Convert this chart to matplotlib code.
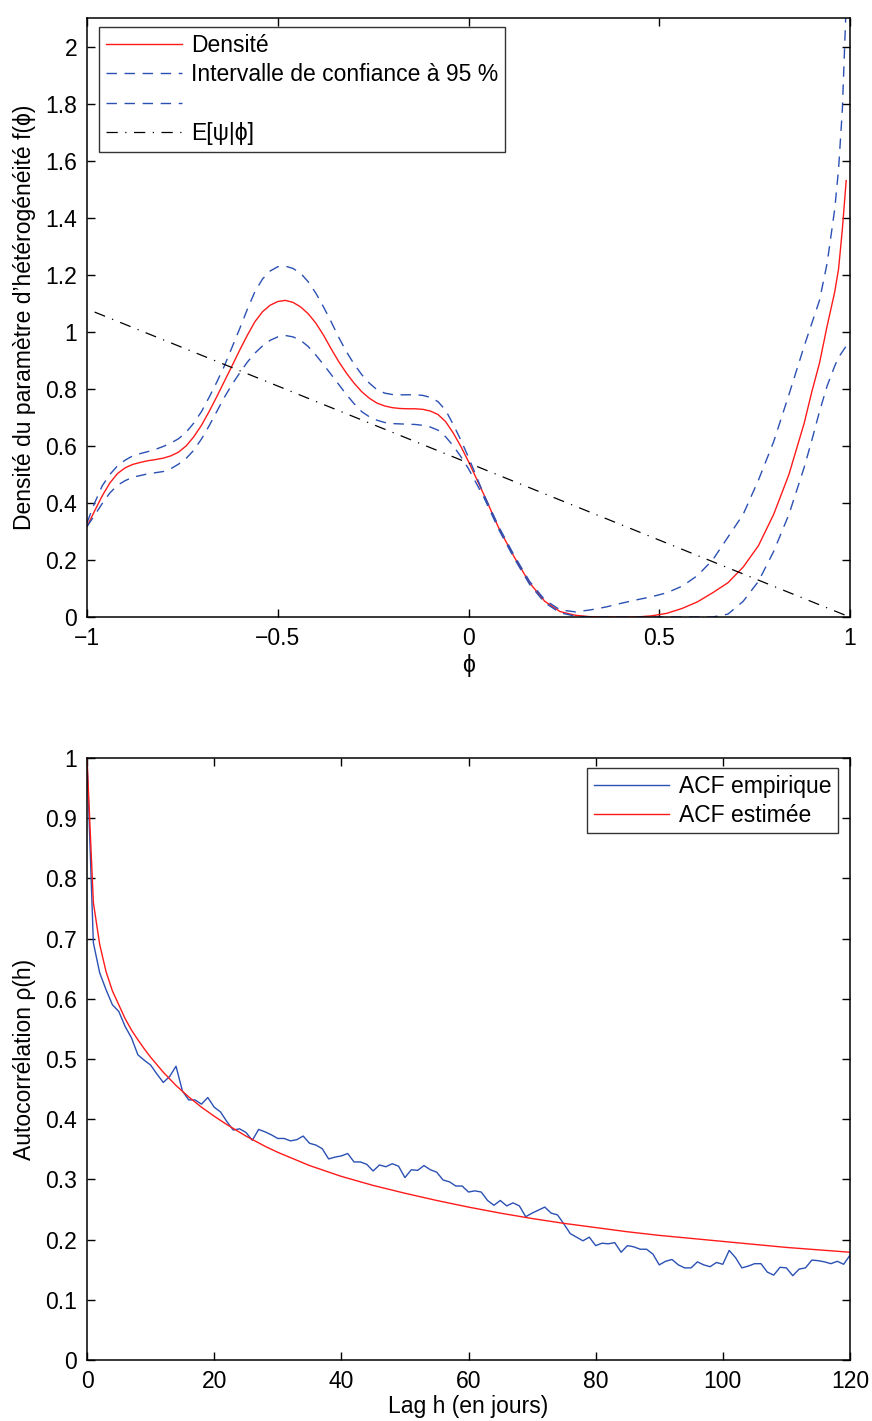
import matplotlib
matplotlib.use("Agg")
import matplotlib.pyplot as plt
from matplotlib.ticker import FuncFormatter, MultipleLocator

plt.rcParams['font.family'] = ['Liberation Sans', 'DejaVu Sans']
plt.rcParams['axes.unicode_minus'] = True

# ---------------- data: top panel ----------------
phi = [-1.00, -0.98, -0.96, -0.94, -0.92, -0.90, -0.88, -0.86, -0.84, -0.82,
       -0.80, -0.78, -0.76, -0.74, -0.72, -0.70, -0.68, -0.66, -0.64, -0.62,
       -0.60, -0.58, -0.56, -0.54, -0.52, -0.50, -0.48, -0.46, -0.44, -0.42,
       -0.40, -0.38, -0.36, -0.34, -0.32, -0.30, -0.28, -0.26, -0.24, -0.22,
       -0.20, -0.18, -0.16, -0.14, -0.12, -0.10, -0.08, -0.06, -0.04, -0.02,
       0.00, 0.04, 0.08, 0.12, 0.16, 0.20, 0.24, 0.28, 0.32, 0.36,
       0.40, 0.44, 0.48, 0.52, 0.56, 0.60, 0.64, 0.68, 0.72, 0.76,
       0.80, 0.84, 0.88, 0.90, 0.92, 0.94, 0.96, 0.97, 0.98, 0.99]
density = [0.317, 0.372, 0.425, 0.47, 0.503, 0.523, 0.535, 0.542, 0.548, 0.552,
           0.557, 0.565, 0.578, 0.60, 0.632, 0.672, 0.72, 0.772, 0.826, 0.88,
           0.935, 0.987, 1.035, 1.07, 1.093, 1.106, 1.11, 1.103, 1.087, 1.063,
           1.03, 0.988, 0.94, 0.895, 0.855, 0.82, 0.79, 0.767, 0.75, 0.74,
           0.734, 0.731, 0.73, 0.73, 0.728, 0.722, 0.71, 0.685, 0.645, 0.598,
           0.545, 0.43, 0.31, 0.21, 0.12, 0.055, 0.019, 0.006, 0.001, 0.0,
           0.0, 0.0, 0.004, 0.013, 0.03, 0.053, 0.085, 0.12, 0.175, 0.25,
           0.36, 0.50, 0.68, 0.79, 0.89, 1.02, 1.14, 1.22, 1.36, 1.53]
ci_upper = [0.33, 0.40, 0.46, 0.50, 0.53, 0.55, 0.565, 0.573, 0.58, 0.588,
            0.598, 0.61, 0.625, 0.648, 0.68, 0.72, 0.77, 0.823, 0.88, 0.945,
            1.01, 1.078, 1.14, 1.185, 1.213, 1.228, 1.23, 1.222, 1.205, 1.175,
            1.135, 1.087, 1.035, 0.98, 0.93, 0.887, 0.85, 0.82, 0.797, 0.785,
            0.78, 0.779, 0.779, 0.779, 0.777, 0.77, 0.755, 0.725, 0.675, 0.62,
            0.56, 0.43, 0.315, 0.215, 0.125, 0.06, 0.025, 0.018, 0.025, 0.035,
            0.048, 0.06, 0.071, 0.085, 0.108, 0.145, 0.20, 0.28, 0.36, 0.48,
            0.615, 0.78, 0.95, 1.03, 1.11, 1.24, 1.43, 1.57, 1.78, 2.15]
ci_lower = [0.317, 0.357, 0.398, 0.435, 0.462, 0.478, 0.49, 0.496, 0.502, 0.506,
            0.51, 0.52, 0.536, 0.556, 0.585, 0.624, 0.67, 0.72, 0.77, 0.815,
            0.855, 0.893, 0.925, 0.95, 0.97, 0.982, 0.987, 0.982, 0.97, 0.948,
            0.918, 0.885, 0.85, 0.815, 0.78, 0.748, 0.72, 0.702, 0.69, 0.682,
            0.678, 0.677, 0.676, 0.675, 0.672, 0.666, 0.655, 0.632, 0.60, 0.562,
            0.52, 0.42, 0.305, 0.205, 0.115, 0.05, 0.015, 0.003, 0.0, 0.0,
            0.0, 0.0, 0.0, 0.0, 0.0, 0.0, 0.0, 0.01, 0.055, 0.125,
            0.23, 0.36, 0.525, 0.62, 0.72, 0.81, 0.88, 0.91, 0.93, 0.95]
phi_line = [-0.98, 0.99]
e_psi = [1.069, 0.005]

top_labels = ["Densité", "Intervalle de confiance à 95 %", " ", "E[ψ|ϕ]"]
top_xticks = [-1, -0.5, 0, 0.5, 1]

# ---------------- data: bottom panel ----------------
lags = list(range(0, 121))
acf_emp = [1.0, 0.693, 0.643, 0.615, 0.59, 0.579, 0.554, 0.535, 0.507, 0.498,
           0.49, 0.475, 0.461, 0.471, 0.488, 0.447, 0.432, 0.432, 0.425, 0.436,
           0.42, 0.412, 0.396, 0.382, 0.384, 0.378, 0.365, 0.383, 0.379, 0.374,
           0.368, 0.368, 0.364, 0.366, 0.372, 0.36, 0.357, 0.351, 0.334, 0.337,
           0.339, 0.343, 0.329, 0.329, 0.325, 0.314, 0.324, 0.321, 0.326, 0.322,
           0.303, 0.316, 0.315, 0.323, 0.316, 0.312, 0.299, 0.296, 0.289, 0.289,
           0.279, 0.281, 0.279, 0.265, 0.257, 0.265, 0.256, 0.261, 0.256, 0.238,
           0.244, 0.249, 0.254, 0.244, 0.241, 0.226, 0.21, 0.204, 0.198, 0.204,
           0.19, 0.194, 0.193, 0.195, 0.179, 0.19, 0.188, 0.184, 0.184, 0.176,
           0.158, 0.164, 0.167, 0.158, 0.153, 0.153, 0.163, 0.158, 0.155, 0.162,
           0.159, 0.182, 0.17, 0.153, 0.156, 0.16, 0.16, 0.146, 0.141, 0.154,
           0.153, 0.14, 0.151, 0.153, 0.166, 0.165, 0.163, 0.16, 0.164, 0.159,
           0.174]
lags_fit = [0, 1, 2, 3, 4, 5, 6, 7, 8, 9, 10, 12, 14, 16, 18, 20, 22, 25, 28, 30,
            35, 40, 45, 50, 55, 60, 65, 70, 75, 80, 85, 90, 95, 100, 105, 110,
            115, 120]
acf_fit = [1.0, 0.76, 0.69, 0.645, 0.613, 0.59, 0.567, 0.548, 0.532, 0.517,
           0.503, 0.478, 0.456, 0.437, 0.42, 0.405, 0.391, 0.372, 0.355, 0.345,
           0.323, 0.305, 0.29, 0.277, 0.265, 0.254, 0.244, 0.235, 0.227, 0.22,
           0.213, 0.207, 0.202, 0.197, 0.192, 0.187, 0.183, 0.179]
bottom_labels = ["ACF empirique", "ACF estimée"]

# ---------------- styling ----------------
RED = '#ff1a1a'
BLUE = '#2b50b4'
FS = 16.5

W, H = 872, 1421
fig = plt.figure(figsize=(W / 100, H / 100), dpi=100)

def px_axes(left, top, right, bottom):
    return fig.add_axes([left / W, 1 - bottom / H, (right - left) / W, (bottom - top) / H])

def fmt(v, p):
    return f'{v:g}'.replace('-', '\u2212')

def style(ax):
    ax.tick_params(direction='in', top=True, right=True, length=6, width=1,
                   labelsize=FS, pad=7, color='black')
    for s in ax.spines.values():
        s.set_linewidth(1.1)
    ax.yaxis.set_major_formatter(FuncFormatter(fmt))
    ax.xaxis.set_major_formatter(FuncFormatter(fmt))

# top panel
ax1 = px_axes(87, 18, 850, 617)
l1, = ax1.plot(phi, density, color=RED, lw=1.0)
l2, = ax1.plot(phi, ci_upper, color=BLUE, lw=1.0, dashes=(7.5, 5.5))
l3, = ax1.plot(phi, ci_lower, color=BLUE, lw=1.0, dashes=(7.5, 5.5))
l4, = ax1.plot(phi_line, e_psi, color='black', lw=0.9, dashes=(9, 6, 1, 6))
ax1.set_xlim(-1, 1)
ax1.set_ylim(0, 2.1)
ax1.set_xticks(top_xticks)
ax1.yaxis.set_major_locator(MultipleLocator(0.2))
style(ax1)
ax1.set_xlabel("ϕ", fontsize=FS, labelpad=3)
ax1.set_ylabel("Densité du paramètre d’hétérogénéité f(ϕ)", fontsize=FS, labelpad=7)
leg1 = ax1.legend([l1, l2, l3, l4], top_labels, loc='upper left',
                  bbox_to_anchor=(12 / 763, 1 - 9 / 599), borderaxespad=0,
                  fontsize=FS, frameon=True, fancybox=False, handlelength=3.3,
                  handletextpad=0.4, labelspacing=0.28, borderpad=0.3)
leg1.get_frame().set_edgecolor('black')
leg1.get_frame().set_linewidth(1.0)

# bottom panel
ax2 = px_axes(87, 758, 850, 1360)
b1, = ax2.plot(lags, acf_emp, color=BLUE, lw=1.0)
b2, = ax2.plot(lags_fit, acf_fit, color=RED, lw=1.0)
ax2.set_xlim(0, 120)
ax2.set_ylim(0, 1)
ax2.xaxis.set_major_locator(MultipleLocator(20))
ax2.yaxis.set_major_locator(MultipleLocator(0.1))
style(ax2)
ax2.set_xlabel("Lag h (en jours)", fontsize=FS, labelpad=2)
ax2.set_ylabel("Autocorrélation ρ(h)", fontsize=FS, labelpad=7)
leg2 = ax2.legend([b1, b2], bottom_labels, loc='upper right',
                  bbox_to_anchor=(1 - 12 / 763, 1 - 10 / 602), borderaxespad=0,
                  fontsize=FS, frameon=True, fancybox=False, handlelength=3.3,
                  handletextpad=0.4, labelspacing=0.25, borderpad=0.3)
leg2.get_frame().set_edgecolor('black')
leg2.get_frame().set_linewidth(1.0)

fig.savefig("out.png", dpi=100, facecolor='white')
